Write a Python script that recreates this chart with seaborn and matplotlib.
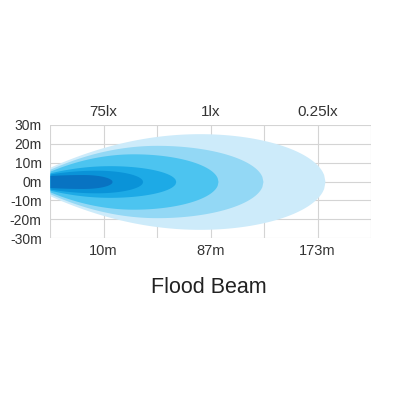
import numpy as np
import pandas as pd
import matplotlib
matplotlib.use("Agg")
import matplotlib.pyplot as plt
import seaborn as sns

# ---- data ----
# beam layers, outermost to innermost; x in grid units (each grid column), y in metres
layer_reach = [5.14, 3.98, 3.14, 2.35, 1.73, 1.16]      # tip of each beam layer
layer_peak_x = [2.80, 2.00, 1.56, 1.12, 0.87, 0.62]     # where the layer is widest
layer_halfwidth = [25.4, 19.2, 14.7, 8.4, 6.0, 3.7]     # max half-width (m)
layer_start = [7.6, 6.5, 5.5, 4.6, 4.0, 3.2]            # half-width at the lamp (m)
layer_colors = ["#CDEBFA", "#93D8F5", "#4CC4F0", "#1DAAE6", "#0A93D8", "#0873C2"]

y_ticks = [30, 20, 10, 0, -10, -20, -30]
y_labels = ["30m", "20m", "10m", "0m", "-10m", "-20m", "-30m"]
dist_ticks = [1, 3, 5]
dist_labels = ["10m", "87m", "173m"]
lux_labels = ["75lx", "1lx", "0.25lx"]
title = "Flood Beam"

sns.set_style("white")
plt.rcParams["font.family"] = ["Liberation Sans", "DejaVu Sans"]

fig = plt.figure(figsize=(4, 4), dpi=100)
ax = fig.add_axes([0.125, 0.405, 0.8025, 0.2825])

def outline(reach, px, h, w0, n=200):
    x = np.linspace(0, reach, n)
    w = np.empty_like(x)
    left = x <= px
    w[left] = w0 + (h - w0) * (1 - ((px - x[left]) / px) ** 2)
    a = reach - px
    w[~left] = h * np.sqrt(np.clip(1 - ((x[~left] - px) / a) ** 2, 0, 1))
    return x, w

for r, px, h, w0, c in zip(layer_reach, layer_peak_x, layer_halfwidth, layer_start, layer_colors):
    x, w = outline(r, px, h, w0)
    ax.fill_between(x, -w, w, color=c, lw=0, zorder=2)

ax.set_xlim(0, 6)
ax.set_ylim(-30, 30)
ax.set_xticks(range(7))
xl = [""] * 7
for t, l in zip(dist_ticks, dist_labels):
    xl[t] = l
ax.set_xticklabels(xl)
ax.set_yticks(y_ticks)
ax.set_yticklabels(y_labels)
ax.grid(True, color="#d4d4d4", lw=0.8, zorder=0)
ax.set_axisbelow(True)
for s in ax.spines.values():
    s.set_visible(False)
ax.tick_params(axis="both", length=0, colors="#333333")
ax.tick_params(axis="x", pad=4, labelsize=10.5)
ax.tick_params(axis="y", pad=6, labelsize=10)

sec = ax.secondary_xaxis("top")
sec.set_xticks(dist_ticks)
sec.set_xticklabels(lux_labels)
sec.tick_params(length=0, labelsize=11, colors="#333333", pad=4)
for s in sec.spines.values():
    s.set_visible(False)

fig.text(0.523, 0.281, title, ha="center", va="center", fontsize=15.5, color="#222222")

fig.savefig("out.png", dpi=100, facecolor="white")
